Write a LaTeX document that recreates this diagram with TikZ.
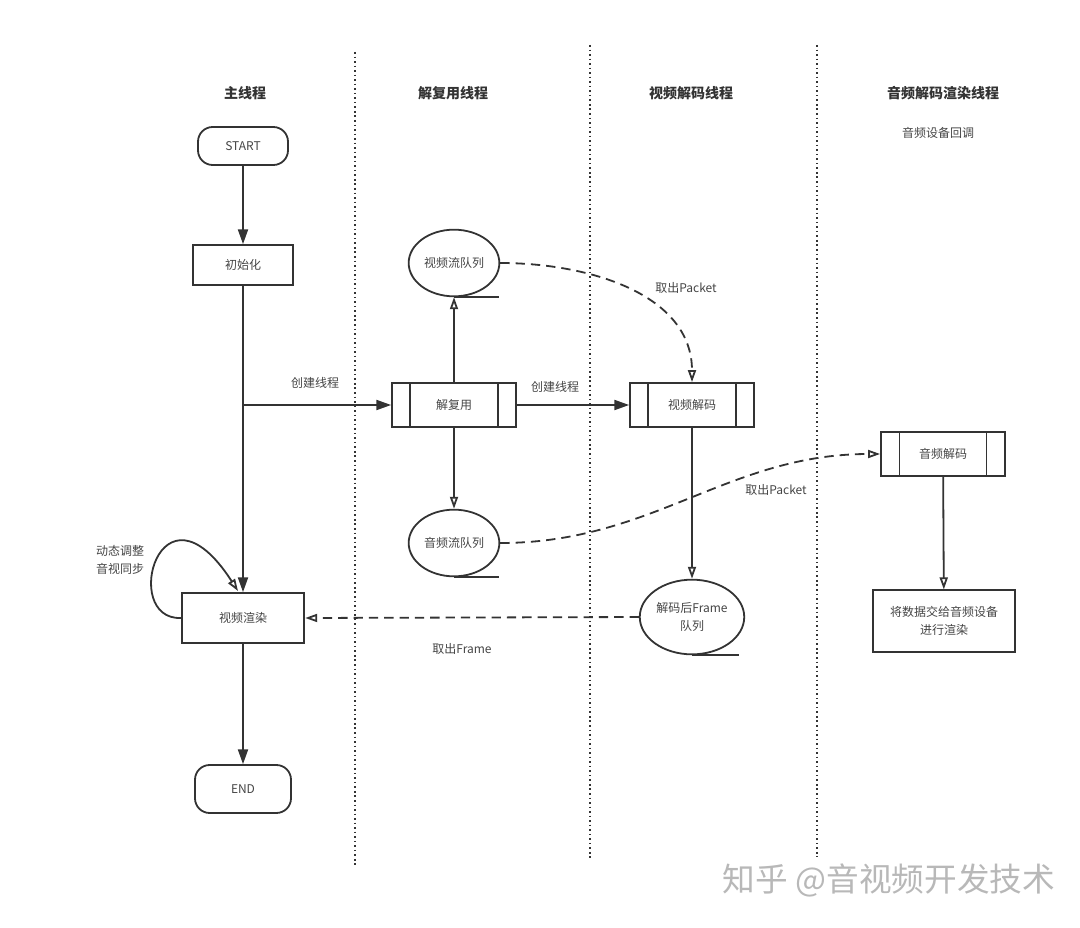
\documentclass[tikz,border=0pt]{standalone}
\usepackage{fontspec}
\setmainfont{Noto Sans CJK SC}
\usetikzlibrary{arrows.meta,positioning,shapes.geometric}
\definecolor{ln}{HTML}{333333}
\definecolor{tx}{HTML}{444444}
\newcommand\sidebars[2]{\draw ([xshift=#2]#1.north west) -- ([xshift=#2]#1.south west)
  ([xshift=-#2]#1.north east) -- ([xshift=-#2]#1.south east);}

\begin{document}
\begin{tikzpicture}[x=0.75pt, y=-0.75pt, color=ln, line width=1.35pt,
            every node/.style={text=tx, font=\fontsize{9}{14}\selectfont},
            lane/.style={text=ln, font=\bfseries\fontsize{10.5}{12}\selectfont},
            term/.style={draw, rounded corners=11pt, minimum width=67.5pt, minimum height=28.5pt},
            proc/.style={draw, minimum width=75pt, minimum height=30pt, align=center},
            subproc/.style={draw, minimum width=93pt, minimum height=33pt},
            queue/.style={draw, ellipse, minimum width=68pt, minimum height=50pt, inner sep=1pt, align=center},
            divider/.style={line width=1.3pt, dash pattern=on 1.2pt off 2.2pt},
            flow/.style={-{Triangle[length=11pt,width=7.5pt]}},
            hollow/.style={-{Triangle[open,length=9pt,width=6pt]}},
            fetch/.style={hollow, dash pattern=on 7pt off 4.5pt}]
            \useasboundingbox (0,0) rectangle (1080,927);
            % lanes
            \draw[divider] (355,52) -- (355,865);
            \draw[divider] (590,45) -- (590,860);
            \draw[divider] (817,45) -- (817,857);
            \node[lane] (hmain) at (245,93) {主线程};
            \node[lane] (hdemux) at (453,93) {解复用线程};
            \node[lane] (hvdec) at (691,93) {视频解码线程};
            \node[lane] (hadec) at (943,93) {音频解码渲染线程};
            \node (cb) at (938,133) {音频设备回调};
            % main thread
            \node[term] (start) at (243,146) {START};
            \node[proc] (init) at (243,265) {初始化};
            \node[proc, minimum width=92pt, minimum height=37.5pt] (vr) at (243,618) {视频渲染};
            \node[term, minimum width=72pt, minimum height=36pt] (end) at (243,789) {END};
            \coordinate (fork) at (243,405);
            \coordinate (loopend) at (238,591);
            % demux thread
            \node[subproc] (demux) at (454,405) {解复用};
            \node[queue] (vq) at (454,263) {视频流队列};
            \node[queue] (aq) at (454,543) {音频流队列};
            % decode threads
            \node[subproc] (vdec) at (692,405) {视频解码};
            \node[queue, minimum height=56pt] (fq) at (692,617) {解码后Frame\\队列};
            \node[subproc] (adec) at (943,454) {音频解码};
            \node[proc, minimum width=106.5pt, minimum height=46pt] (arender) at (944,621) {将数据交给音频设备\\进行渲染};
            \sidebars{demux}{14pt}
            \sidebars{vdec}{14pt}
            \sidebars{adec}{14.5pt}
            \draw (vq.south) -- ++(45,0);
            \draw (aq.south) -- ++(45,0);
            \draw (fq.south) -- ++(47,0);
            % connectors
            \path[flow] (start) edge (init)
                        (init) edge (vr)
                        (fork) edge (demux)
                        (demux) edge (vdec)
                        (vr) edge (end);
            \path[hollow] (demux) edge (vq)
                          (demux) edge (aq)
                          (vdec) edge (fq)
                          (adec) edge (arender);
            \draw[fetch] (vq.east) to[out=0, in=90] (vdec.north);
            \draw[fetch] (aq.east) to[out=0, in=180] (adec.west);
            \draw[fetch] (fq.west) -- (vr.east);
            \draw[hollow] (vr.west) .. controls (120,620) and (160,470) .. (loopend);
            % labels
            \node (l1) at (315,383) {创建线程};
            \node (l2) at (555,387) {创建线程};
            \node (l3) at (686,288) {取出Packet};
            \node (l4) at (776,490) {取出Packet};
            \node (l5) at (462,649) {取出Frame};
            \node[align=center] (l6) at (120,560) {动态调整\\音视同步};
            \node[text=black!28, font=\fontsize{24.5}{28}\selectfont] (mark) at (889,880) {知乎 @音视频开发技术};
        \end{tikzpicture}
\end{document}
